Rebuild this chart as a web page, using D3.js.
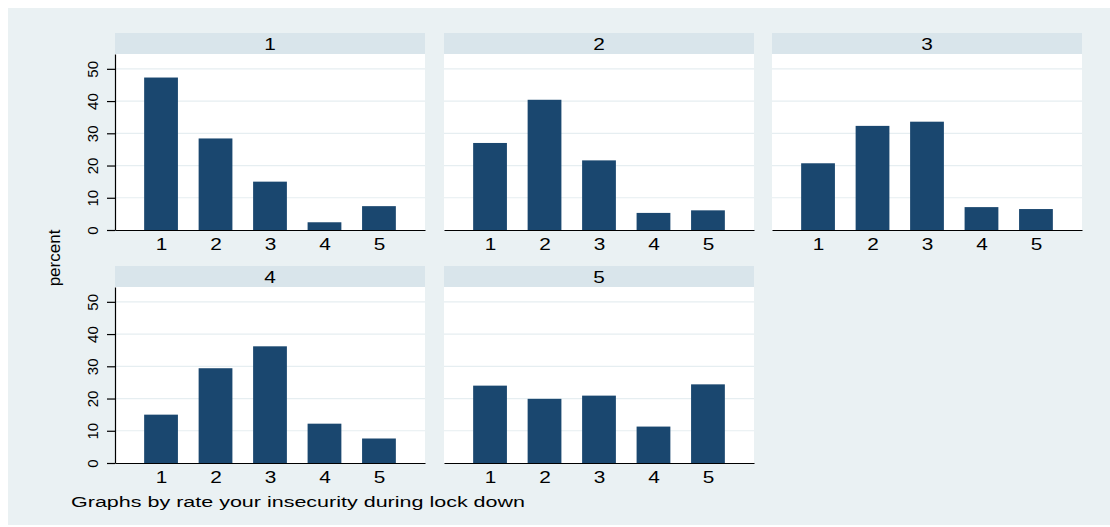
<!DOCTYPE html>
<html>
<head>
<meta charset="utf-8">
<script src="https://d3js.org/d3.v7.min.js"></script>
<style>
  html, body { margin: 0; padding: 0; background: #ffffff; }
  svg { display: block; }
  text { font-family: "Liberation Sans", Arial, sans-serif; fill: #000; }
</style>
</head>
<body>
<svg id="chart" width="1110" height="527"></svg>
<script>
// Response categories on the x axis of every panel
const categories = [1, 2, 3, 4, 5];
// Panel titles: the "rate your insecurity during lock down" groups
const panelTitles = ["1", "2", "3", "4", "5"];
// Percent of respondents per category, one array per panel
const percent1 = [47.3, 28.4, 15.0, 2.4, 7.4];
const percent2 = [27.0, 40.4, 21.6, 5.3, 6.1];
const percent3 = [20.7, 32.3, 33.6, 7.1, 6.5];
const percent4 = [15.0, 29.4, 36.2, 12.2, 7.6];
const percent5 = [24.0, 19.9, 20.9, 11.3, 24.4];
const panelValues = [percent1, percent2, percent3, percent4, percent5];
// Y-axis tick labels
const yTicks = [0, 10, 20, 30, 40, 50];
const yLabel = "percent";
const note = "Graphs by rate your insecurity during lock down";

const svg = d3.select("#chart");
const W = 1110, H = 527;
const stretch = 1.3;   // wide glyphs, as in the exported graph
const FONT = "Liberation Sans, Arial, sans-serif";

const colBg = "#eaf1f3", colStrip = "#d9e5eb", colBar = "#1a476f", colGrid = "#e6eef1";

// Layout of the 3 x 2 panel grid
const colX = [115, 444, 772];
const panelW = 310;
const stripTop = [33, 266];
const stripH = 21;
const plotH = 176;

svg.append("rect").attr("x", 0).attr("y", 0).attr("width", W).attr("height", H).attr("fill", "#ffffff");
svg.append("rect").attr("x", 8).attr("y", 8).attr("width", W - 8).attr("height", H - 10).attr("fill", colBg);

panelValues.forEach((vals, i) => {
  const row = Math.floor(i / 3), col = i % 3;
  const x0 = colX[col];
  const sTop = stripTop[row];
  const pTop = sTop + stripH;
  const axisY = pTop + plotH;

  const x = d3.scaleLinear().domain([0.155, 5.845]).range([x0, x0 + panelW]);
  const y = d3.scaleLinear().domain([0, 54.6]).range([axisY, pTop]);
  const barW = x(1.62) - x(1);

  const g = svg.append("g");

  // strip header
  g.append("rect").attr("x", x0).attr("y", sTop).attr("width", panelW).attr("height", stripH).attr("fill", colStrip);
  g.append("text")
    .attr("transform", `translate(${x0 + panelW / 2},${sTop + stripH / 2 + 6}) scale(${stretch},1)`)
    .attr("text-anchor", "middle").attr("font-size", 16)
    .text(panelTitles[i]);

  // plot region
  g.append("rect").attr("x", x0).attr("y", pTop).attr("width", panelW).attr("height", plotH).attr("fill", "#ffffff");

  // gridlines
  g.selectAll(".grid").data(yTicks.filter(t => t > 0)).enter().append("line")
    .attr("x1", x0).attr("x2", x0 + panelW)
    .attr("y1", d => y(d)).attr("y2", d => y(d))
    .attr("stroke", colGrid).attr("stroke-width", 1.2);

  // bars
  g.selectAll(".bar").data(categories).enter().append("rect")
    .attr("x", d => x(d) - barW / 2)
    .attr("y", (d, j) => y(vals[j]))
    .attr("width", barW)
    .attr("height", (d, j) => y(0) - y(vals[j]))
    .attr("fill", colBar);

  // x axis
  const xAxis = d3.axisBottom(x).tickValues(categories).tickSize(0).tickSizeOuter(0)
    .tickPadding(0).tickFormat(d3.format("d"));
  const gx = g.append("g").attr("transform", `translate(0,${axisY})`).call(xAxis);
  gx.select(".domain").attr("stroke", "#000").attr("stroke-width", 1.2);
  gx.selectAll(".tick text")
    .attr("y", 0).attr("dy", null)
    .attr("transform", `translate(0,20) scale(${stretch},1)`)
    .attr("font-size", 16).attr("font-family", FONT).attr("fill", "#000");

  // y axis on the first column only
  if (col === 0) {
    const yAxis = d3.axisLeft(y).tickValues(yTicks).tickSize(8).tickSizeOuter(0).tickFormat(d3.format("d"));
    const gy = g.append("g").attr("transform", `translate(${x0},0)`).call(yAxis);
    gy.select(".domain").attr("stroke", "#000").attr("stroke-width", 1.2);
    gy.selectAll(".tick line").attr("stroke", "#000").attr("stroke-width", 1.2);
    gy.selectAll(".tick text")
      .attr("x", null).attr("y", null).attr("dy", null)
      .attr("transform", "translate(-17.5,0) rotate(-90)")
      .attr("text-anchor", "middle")
      .attr("font-size", 15).attr("font-family", FONT).attr("fill", "#000");
  }
});

// shared y-axis title
svg.append("text")
  .attr("transform", "translate(60,258) rotate(-90)")
  .attr("text-anchor", "middle").attr("font-size", 17)
  .text(yLabel);

// by-group note
svg.append("text")
  .attr("x", 71).attr("y", 507)
  .attr("font-size", 15.5)
  .attr("textLength", 454).attr("lengthAdjust", "spacingAndGlyphs")
  .text(note);
</script>
</body>
</html>
